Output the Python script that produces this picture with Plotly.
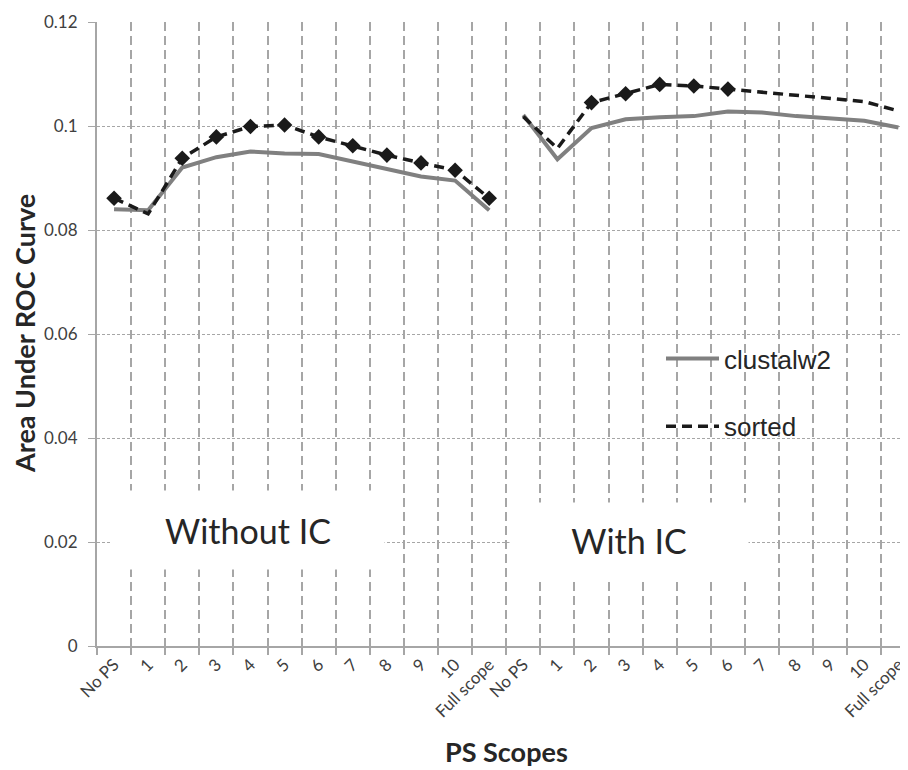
import plotly.graph_objects as go

# ---------------- data ----------------
scope_labels = ["No PS", "1", "2", "3", "4", "5", "6", "7", "8", "9", "10", "Full scope"]
categories = scope_labels + scope_labels  # Without IC | With IC

clustalw2_without_ic = [0.0840, 0.0838, 0.0920, 0.0940, 0.0951, 0.0947, 0.0946, 0.0932, 0.0917, 0.0903, 0.0895, 0.0838]
sorted_without_ic = [0.0861, 0.0831, 0.0938, 0.0979, 0.0999, 0.1002, 0.0979, 0.0962, 0.0944, 0.0929, 0.0915, 0.0861]
clustalw2_with_ic = [0.1021, 0.0936, 0.0996, 0.1013, 0.1017, 0.1019, 0.1028, 0.1026, 0.1019, 0.1015, 0.1010, 0.0997]
sorted_with_ic = [0.1018, 0.0957, 0.1045, 0.1062, 0.1080, 0.1077, 0.1071, 0.1065, 0.1060, 0.1053, 0.1047, 0.1029]

y_ticks = [0, 0.02, 0.04, 0.06, 0.08, 0.1, 0.12]
group_labels = ["Without IC", "With IC"]
series_names = ["clustalw2", "sorted"]

# ---------------- figure ----------------
n = len(scope_labels)
x_without = list(range(n))
x_with = list(range(n, 2 * n))

GRID = "#a6a6a6"
SOLID = "#808080"
DASHC = "#1a1a1a"
TXT = "#262626"

# the page body adds an 8px margin around the figure; size the figure so the
# plotting area lands on the same screen pixels as the reference (x 97..908, y 22..646)
PAGE_OFF = 8
PX_L, PX_R, PX_T, PX_B = 97, 908, 22, 646
PW, PH = PX_R - PX_L, PX_B - PX_T


def px_x(p):
    return (p - PX_L) / PW


def px_y(p):
    return (PX_B - p) / PH


fig = go.Figure()

fig.add_trace(go.Scatter(x=x_without, y=clustalw2_without_ic, mode="lines", name=series_names[0],
                         legendgroup="c", line=dict(color=SOLID, width=4)))
fig.add_trace(go.Scatter(x=x_with, y=clustalw2_with_ic, mode="lines", name=series_names[0],
                         legendgroup="c", showlegend=False, line=dict(color=SOLID, width=4)))
fig.add_trace(go.Scatter(x=x_without, y=sorted_without_ic, mode="lines", name=series_names[1],
                         legendgroup="s", line=dict(color=DASHC, width=3.5, dash="10px,6px")))
fig.add_trace(go.Scatter(x=x_with, y=sorted_with_ic, mode="lines", name=series_names[1],
                         legendgroup="s", showlegend=False, line=dict(color=DASHC, width=3.5, dash="10px,6px")))

# diamond markers shown on some of the "sorted" points
all_x = x_without + x_with
all_sorted = sorted_without_ic + sorted_with_ic
marked = [0, 2, 3, 4, 5, 6, 7, 8, 9, 10, 11, 14, 15, 16, 17, 18]
fig.add_trace(go.Scatter(x=[all_x[i] for i in marked], y=[all_sorted[i] for i in marked],
                         mode="markers", showlegend=False, legendgroup="s", hoverinfo="skip",
                         marker=dict(symbol="diamond", size=12, color=DASHC)))

# white box behind legend (hides gridlines)
fig.add_shape(type="rect", xref="paper", yref="paper", x0=px_x(658), x1=px_x(860),
              y0=px_y(458), y1=px_y(323),
              fillcolor="white", line=dict(width=0), layer="between")

fig.add_annotation(x=px_x(248), y=px_y(530), xref="paper", yref="paper", text=group_labels[0],
                   xanchor="center", yanchor="middle",
                   showarrow=False, font=dict(family="Lato", size=34, color=TXT),
                   bgcolor="white", width=270, height=76)
fig.add_annotation(x=px_x(629), y=px_y(540), xref="paper", yref="paper", text=group_labels[1],
                   xanchor="center", yanchor="middle",
                   showarrow=False, font=dict(family="Lato", size=34, color=TXT),
                   bgcolor="white", width=236, height=72)

# axis titles
fig.add_annotation(x=px_x(24), y=px_y(334), xref="paper", yref="paper",
                   xanchor="center", yanchor="middle",
                   text="<b>Area Under ROC Curve</b>", textangle=-90, showarrow=False,
                   font=dict(family="Lato", size=27, color=TXT))
fig.add_annotation(x=px_x(506), y=px_y(751), xref="paper", yref="paper",
                   xanchor="center", yanchor="middle", borderpad=0,
                   text="<b>PS Scopes</b>", showarrow=False,
                   font=dict(family="Lato", size=27, color=TXT))

fig.update_layout(
    width=908 - PAGE_OFF, height=770 - PAGE_OFF,
    margin=dict(l=PX_L - PAGE_OFF, r=0, t=PX_T - PAGE_OFF, b=770 - PX_B),
    paper_bgcolor="white", plot_bgcolor="white",
    showlegend=True,
    legend=dict(x=px_x(661), y=px_y(335), xanchor="left", yanchor="top",
                bgcolor="rgba(0,0,0,0)", font=dict(family="Liberation Sans", size=26, color=TXT),
                tracegroupgap=31, traceorder="grouped", itemwidth=53),
    xaxis=dict(
        range=[-0.5, 23.28], tickmode="array", tickvals=all_x, ticktext=categories,
        tickangle=-45, ticks="", showgrid=False, zeroline=False, automargin=False,
        showline=True, linecolor=GRID, linewidth=2,
        tickfont=dict(family="Lato", size=17, color="#404040"),
        minor=dict(tickmode="array", tickvals=[i - 0.5 for i in range(2 * n + 1)],
                   ticks="outside", ticklen=7, tickcolor=GRID, tickwidth=2,
                   showgrid=True, gridcolor=GRID, gridwidth=1.5, griddash="9px,5px"),
    ),
    yaxis=dict(
        range=[0, 0.12], tickmode="array", tickvals=y_ticks, automargin=False,
        showgrid=True, gridcolor=GRID, gridwidth=1.2, griddash="3px,2px",
        zeroline=False, showline=True, linecolor=GRID, linewidth=2,
        ticks="outside", ticklen=7, tickcolor=GRID, tickwidth=1, ticklabelstandoff=7,
        tickfont=dict(family="Lato", size=17, color="#404040"),
    ),
)

fig.write_html("out.html")
